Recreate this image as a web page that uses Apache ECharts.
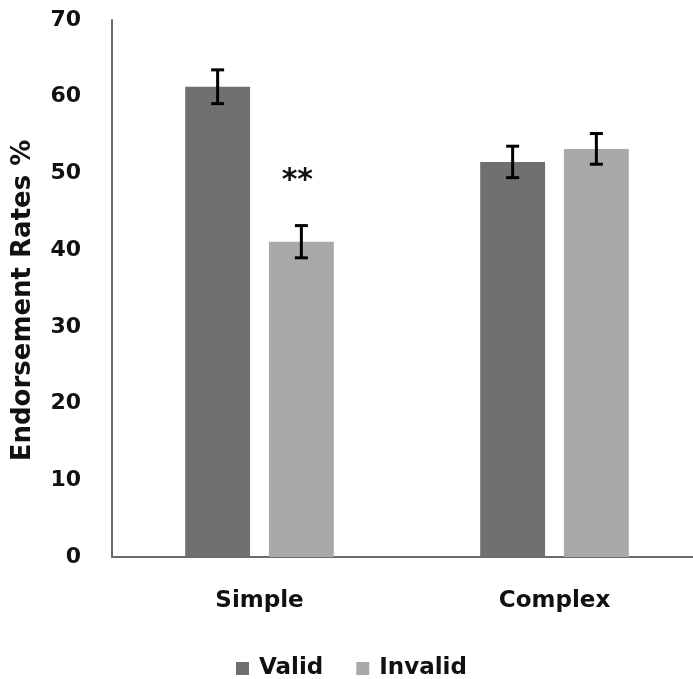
<!DOCTYPE html>
<html>
<head>
<meta charset="utf-8">
<script src="https://cdn.jsdelivr.net/npm/echarts@6/dist/echarts.min.js"></script>
<style>
html,body{margin:0;padding:0;background:#fff;}
#chart{width:693px;height:679px;}
</style>
</head>
<body>
<div id="chart"></div>
<script>
var categories = ['Simple', 'Complex'];
var seriesNames = ['Valid', 'Invalid'];
var validValues = [61.3, 51.5];
var invalidValues = [41.1, 53.2];
var validErrors = [2.2, 2.05];
var invalidErrors = [2.1, 2.0];
var invalidAnnotations = ['**', ''];
var yTicks = [0, 10, 20, 30, 40, 50, 60, 70];

var FONT = '"DejaVu Sans"';
var chart = echarts.init(document.getElementById('chart'));

var BAR_RATIO = 0.22;
var GAP_RATIO = 0.29;

function errorSeries(values, errors, sign) {
  var data = values.map(function (v, i) { return [i, v, errors[i]]; });
  return {
    type: 'custom',
    z: 10,
    data: data,
    renderItem: function (params, api) {
      var idx = api.value(0);
      var v = api.value(1);
      var e = api.value(2);
      var band = api.size([1, 0])[0];
      var bw = band * BAR_RATIO;
      var off = sign * (bw + bw * GAP_RATIO) / 2;
      var top = api.coord([idx, v + e]);
      var bot = api.coord([idx, v - e]);
      var x = top[0] + off;
      var cap = 6.5;
      var style = { stroke: '#000', lineWidth: 3 };
      return {
        type: 'group',
        children: [
          { type: 'line', shape: { x1: x, y1: top[1], x2: x, y2: bot[1] }, style: style },
          { type: 'line', shape: { x1: x - cap, y1: top[1], x2: x + cap, y2: top[1] }, style: style },
          { type: 'line', shape: { x1: x - cap, y1: bot[1], x2: x + cap, y2: bot[1] }, style: style }
        ]
      };
    }
  };
}

var option = {
  backgroundColor: '#fff',
  animation: false,
  textStyle: { fontFamily: FONT },
  grid: { left: 112, top: 20, width: 590, height: 537, containLabel: false, outerBoundsMode: 'none' },
  legend: {
    data: seriesNames,
    left: 231,
    top: 652,
    icon: 'rect',
    itemWidth: 13,
    itemHeight: 13,
    itemGap: 33,
    textStyle: { fontFamily: FONT, fontWeight: 'bold', fontSize: 23, color: '#111', padding: [0, 0, 0, 5] }
  },
  xAxis: {
    type: 'category',
    data: categories,
    axisLine: { lineStyle: { color: '#6a6a6a', width: 2 } },
    axisTick: { show: false },
    axisLabel: { fontFamily: FONT, fontWeight: 'bold', fontSize: 23, color: '#111', margin: 33 }
  },
  yAxis: {
    type: 'value',
    min: 0,
    max: 70,
    interval: 10,
    name: 'Endorsement Rates %',
    nameLocation: 'middle',
    nameGap: 76,
    nameRotate: 90,
    nameTextStyle: { fontFamily: FONT, fontWeight: 'bold', fontSize: 26, color: '#111', padding: [0, 24, 0, 0] },
    axisLine: { show: true, lineStyle: { color: '#6a6a6a', width: 2 } },
    axisTick: { show: false },
    splitLine: { show: false },
    axisLabel: {
      fontFamily: FONT, fontWeight: 'bold', fontSize: 22, color: '#111', margin: 31,
      formatter: function (v) { return yTicks.indexOf(v) >= 0 ? String(v) : ''; }
    }
  },
  series: [
    {
      name: 'Valid',
      type: 'bar',
      data: validValues,
      barWidth: (BAR_RATIO * 100) + '%',
      barGap: (GAP_RATIO * 100) + '%',
      itemStyle: { color: '#707070' }
    },
    {
      name: 'Invalid',
      type: 'bar',
      data: invalidValues,
      barWidth: (BAR_RATIO * 100) + '%',
      itemStyle: { color: '#a9a9a9' },
      label: {
        show: true,
        position: 'top',
        distance: 46,
        offset: [-4, 0],
        fontFamily: FONT,
        fontWeight: 'bold',
        fontSize: 30,
        color: '#111',
        formatter: function (p) { return invalidAnnotations[p.dataIndex]; }
      }
    },
    errorSeries(validValues, validErrors, -1),
    errorSeries(invalidValues, invalidErrors, 1)
  ]
};
chart.setOption(option);
</script>
</body>
</html>
